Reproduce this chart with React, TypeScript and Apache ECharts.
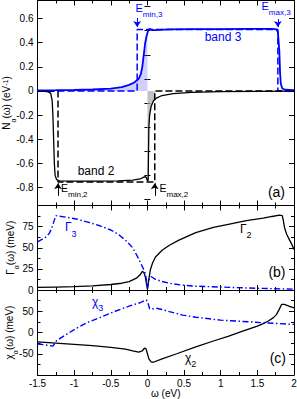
import React, { useEffect, useRef } from "react";
import * as echarts from "echarts";

const FONT = "'Liberation Sans', Arial, Helvetica, sans-serif";
const BLUE = "#0000ff";
const BLACK = "#000000";

// ---------- Panel (a): density of states N_alpha(omega) ----------
const band3Dos: [number, number][] = [
  [-1.5, 0.005], [-1.25, 0.006], [-1.0, 0.008], [-0.75, 0.012], [-0.5, 0.02],
  [-0.35, 0.032], [-0.25, 0.05], [-0.18, 0.07], [-0.12, 0.1], [-0.09, 0.14],
  [-0.07, 0.2], [-0.05, 0.3], [-0.03, 0.4], [-0.01, 0.46], [0, 0.48],
  [0.01, 0.5], [0.03, 0.515], [0.06, 0.505], [0.1, 0.505], [0.3, 0.51],
  [0.6, 0.512], [1.0, 0.512], [1.4, 0.514], [1.7, 0.515], [1.76, 0.51],
  [1.78, 0.49], [1.8, 0.33], [1.81, 0.15], [1.82, 0.06], [1.84, 0.02],
  [1.88, 0.01], [2.0, 0.006],
];
const band2Dos: [number, number][] = [
  [-1.5, -0.002], [-1.4, -0.003], [-1.35, -0.008], [-1.32, -0.02], [-1.3, -0.08],
  [-1.29, -0.2], [-1.28, -0.4], [-1.27, -0.6], [-1.26, -0.7], [-1.24, -0.735],
  [-1.2, -0.745], [-1.0, -0.748], [-0.7, -0.748], [-0.4, -0.745], [-0.2, -0.74],
  [-0.1, -0.73], [-0.05, -0.715], [-0.03, -0.71], [-0.015, -0.72], [0, -0.745],
  [0.01, -0.74], [0.015, -0.5], [0.02, -0.3], [0.03, -0.2], [0.05, -0.13],
  [0.08, -0.085], [0.1, -0.07], [0.12, -0.06], [0.2, -0.038], [0.35, -0.022],
  [0.6, -0.012], [1.0, -0.006], [1.5, -0.003], [2.0, -0.002],
];
const eMin3 = -0.14;
const eMax3 = 1.78;
const eMin2 = -1.22;
const eMax2 = 0.1;
const band3Height = 0.51;
const band2Height = -0.755;
const band3Model: [number, number][] = [
  [-1.5, 0], [eMin3, 0], [eMin3, band3Height], [eMax3, band3Height], [eMax3, 0], [2, 0],
];
const band2Model: [number, number][] = [
  [-1.5, 0], [eMin2, 0], [eMin2, band2Height], [eMax2, band2Height], [eMax2, 0], [2, 0],
];
const dosLabelTicks = [-0.8, -0.6, -0.4, -0.2, 0, 0.2, 0.4, 0.6];
const dosMinorTicks = [-0.9, -0.7, -0.5, -0.3, -0.1, 0.1, 0.3, 0.5, 0.7];

// ---------- Panel (b): Gamma_alpha(omega) in meV ----------
const gamma3: [number, number][] = [
  [-1.5, 57], [-1.44, 60], [-1.38, 63], [-1.34, 67], [-1.31, 72], [-1.28, 80],
  [-1.25, 88], [-1.1, 86], [-0.97, 84], [-0.8, 80], [-0.65, 76], [-0.5, 71],
  [-0.4, 66], [-0.3, 59], [-0.2, 50], [-0.12, 37], [-0.06, 26], [-0.03, 20],
  [-0.01, 10], [0, 2], [0.02, 12], [0.05, 16], [0.1, 13], [0.2, 10], [0.3, 8],
  [0.45, 6], [0.66, 4.5], [1.0, 3.5], [1.5, 2], [2.0, 1],
];
const gamma2: [number, number][] = [
  [-1.5, 3], [-1.25, 3.5], [-1.0, 4], [-0.75, 5], [-0.5, 6.5], [-0.35, 8],
  [-0.25, 10], [-0.15, 14], [-0.1, 18], [-0.07, 22], [-0.05, 21], [-0.03, 16],
  [-0.015, 8], [0, 1], [0.015, 10], [0.04, 24], [0.07, 32], [0.11, 39],
  [0.2, 47], [0.3, 53], [0.43, 59], [0.66, 68], [0.9, 74], [1.12, 78],
  [1.35, 82], [1.58, 85], [1.7, 87], [1.8, 88.5], [1.84, 88], [1.855, 82],
  [1.87, 74], [1.9, 66], [1.94, 59], [1.97, 54], [2.0, 48],
];

// ---------- Panel (c): chi_alpha(omega) in meV ----------
const chi3: [number, number][] = [
  [-1.5, -27], [-1.4, -29], [-1.29, -32], [-1.24, -19], [-1.1, -4], [-0.97, 10],
  [-0.8, 25], [-0.65, 35], [-0.44, 50], [-0.25, 62], [-0.1, 70], [-0.02, 77],
  [0, 74], [0.03, 56], [0.06, 55], [0.12, 57], [0.2, 54], [0.3, 49],
  [0.48, 41], [0.66, 36], [1.0, 29], [1.3, 26], [1.58, 23], [2.0, 19],
];
const chi2: [number, number][] = [
  [-1.5, -22], [-1.25, -25], [-1.0, -28], [-0.75, -31], [-0.5, -35], [-0.3, -39],
  [-0.2, -43], [-0.12, -46], [-0.07, -43], [-0.04, -37], [-0.02, -38], [0, -50],
  [0.02, -62], [0.05, -69], [0.08, -70], [0.2, -62], [0.4, -50], [0.66, -34],
  [0.9, -20], [1.1, -9], [1.3, 3], [1.5, 15], [1.58, 21], [1.65, 27],
  [1.72, 35], [1.76, 42], [1.8, 55], [1.83, 66], [1.87, 66], [1.93, 62], [2.0, 58],
];

const band3Fill = band3Dos.filter(([w]) => w >= -1.25 && w <= 0);
const band2Fill = band2Dos.filter(([w]) => w >= 0 && w <= eMax2);

function rich(size: number, color: string) {
  const sub = Math.round(size * 0.72);
  return {
    m: { fontSize: size, lineHeight: size + 5, verticalAlign: "top", fontFamily: FONT, fill: color, color },
    s: { fontSize: sub, lineHeight: sub, verticalAlign: "bottom", fontFamily: FONT, fill: color, color },
    p: { fontSize: sub, lineHeight: sub, verticalAlign: "top", fontFamily: FONT, fill: color, color },
  };
}

const axisLine = { show: true, onZero: false, lineStyle: { color: BLACK, width: 1 } };
const tickStyle = { color: BLACK, width: 1 };
const labelStyle = { color: BLACK, fontSize: 10, fontFamily: FONT };

function xAxes(grid: number, showLabels: boolean) {
  const base = {
    type: "value",
    gridIndex: grid,
    min: -1.5,
    max: 2,
    interval: 0.5,
    axisLine,
    axisTick: { show: true, inside: true, length: 5, lineStyle: tickStyle },
    minorTick: { show: true, splitNumber: 2, length: 3, lineStyle: tickStyle },
    splitLine: { show: false },
    minorSplitLine: { show: false },
  };
  return [
    {
      ...base,
      position: "bottom",
      axisLabel: { show: showLabels, margin: 3, ...labelStyle },
      name: showLabels ? "ω (eV)" : "",
      nameLocation: "middle",
      nameGap: 13,
      nameMoveOverlap: false,
      nameTextStyle: { color: BLACK, fontSize: 10, fontFamily: FONT },
    },
    { ...base, position: "top", axisLabel: { show: false } },
  ];
}

function yAxes(grid: number, min: number, max: number, interval: number, name: string, nameGap: number) {
  const base = {
    type: "value",
    gridIndex: grid,
    min,
    max,
    interval,
    axisLine,
    axisTick: { show: true, inside: true, length: 5, lineStyle: tickStyle },
    minorTick: { show: true, splitNumber: 2, length: 3, lineStyle: tickStyle },
    splitLine: { show: false },
    minorSplitLine: { show: false },
  };
  return [
    {
      ...base,
      position: "left",
      axisLabel: { show: true, margin: 4, showMinLabel: min >= 0, showMaxLabel: false, ...labelStyle },
      name,
      nameLocation: "middle",
      nameRotate: 90,
      nameGap,
      nameMoveOverlap: false,
      nameTextStyle: { color: BLACK, fontSize: 10, fontFamily: FONT, rich: rich(10, BLACK) },
    },
    { ...base, position: "right", axisLabel: { show: false } },
  ];
}

function dosYAxes() {
  const base = {
    type: "value",
    gridIndex: 0,
    min: -0.95,
    max: 0.75,
    splitLine: { show: false },
  };
  return [
    {
      ...base,
      position: "left",
      axisLine,
      axisTick: { show: true, inside: true, length: 5, lineStyle: tickStyle, customValues: dosLabelTicks },
      axisLabel: { show: true, margin: 4, customValues: dosLabelTicks, ...labelStyle },
      name: "{m|N}{s|α}{m|(ω) (eV}{p|-1}{m|)}",
      nameLocation: "middle",
      nameRotate: 90,
      nameGap: 21,
      nameMoveOverlap: false,
      nameTextStyle: { color: BLACK, fontSize: 10, fontFamily: FONT, rich: rich(10, BLACK) },
    },
    {
      ...base,
      position: "right",
      axisLine,
      axisTick: { show: true, inside: true, length: 5, lineStyle: tickStyle, customValues: dosLabelTicks },
      axisLabel: { show: false },
    },
    {
      ...base,
      position: "left",
      axisLine: { show: false },
      axisTick: { show: true, inside: true, length: 3, lineStyle: tickStyle, customValues: dosMinorTicks },
      axisLabel: { show: false },
    },
    {
      ...base,
      position: "right",
      axisLine: { show: false },
      axisTick: { show: true, inside: true, length: 3, lineStyle: tickStyle, customValues: dosMinorTicks },
      axisLabel: { show: false },
    },
  ];
}

function line(data: [number, number][], xi: number, yi: number, color: string, width: number, type: any, extra: any = {}) {
  return {
    type: "line",
    data,
    xAxisIndex: xi,
    yAxisIndex: yi,
    showSymbol: false,
    symbol: "none",
    silent: true,
    lineStyle: { color, width, type },
    ...extra,
  };
}

function arrows(color: string, segs: [number, number, number][]) {
  return {
    silent: true,
    symbol: ["none", "arrow"],
    symbolSize: 6,
    label: { show: false },
    emphasis: { disabled: true },
    lineStyle: { color, type: "solid", width: 1 },
    data: segs.map(([x, y0, y1]) => [{ coord: [x, y0] }, { coord: [x, y1] }]),
  };
}

function gtext(x: number, y: number, text: string, size: number, color: string, align = "left", vAlign = "top") {
  return {
    type: "text",
    x,
    y,
    silent: true,
    z: 100,
    style: {
      text,
      fill: color,
      fontSize: size,
      fontFamily: FONT,
      align,
      verticalAlign: vAlign,
      rich: rich(size, color),
    },
  };
}

const DASH = [7, 3];
const DASHDOT = [6, 2.5, 1.5, 2.5];

export default function App() {
  const ref = useRef<HTMLDivElement>(null);
  useEffect(() => {
    if (!ref.current) return;
    const chart = echarts.init(ref.current, null, { renderer: "svg" });
    const gridBase = { left: 37.5, right: 3, containLabel: false, outerBoundsMode: "none" };
    const option: any = {
      animation: false,
      backgroundColor: "#ffffff",
      grid: [
        { ...gridBase, top: 0.5, height: 205 },
        { ...gridBase, top: 205.5, height: 84.5 },
        { ...gridBase, top: 290, height: 85 },
      ],
      xAxis: [...xAxes(0, false), ...xAxes(1, false), ...xAxes(2, true)],
      yAxis: [
        ...dosYAxes(),
        ...yAxes(1, 0, 100, 25, "{m|Γ}{s|α}{m|(ω) (meV)}", 17.5),
        ...yAxes(2, -100, 100, 50, "{m|χ}{s|α}{m|(ω) (meV)}", 18.5),
      ],
      series: [
        line(band3Fill, 0, 0, BLUE, 0, "solid", { areaStyle: { color: "rgba(60,60,255,0.35)" } }),
        line(band2Fill, 0, 0, "#888", 0, "solid", { areaStyle: { color: "#a8a8a8" } }),
        line(band3Model, 0, 0, BLUE, 1.5, DASH),
        line(band2Model, 0, 0, BLACK, 1.5, DASH),
        line(band2Dos, 0, 0, BLACK, 1.3, "solid", {
          markLine: arrows(BLACK, [
            [eMin2, -0.87, -0.765],
            [eMax2, -0.87, -0.765],
          ]),
        }),
        line(band3Dos, 0, 0, BLUE, 1.8, "solid", {
          markLine: arrows(BLUE, [
            [eMin3, 0.605, 0.53],
            [eMax3, 0.595, 0.53],
          ]),
        }),
        line(gamma2, 2, 4, BLACK, 1.3, "solid"),
        line(gamma3, 2, 4, BLUE, 1.4, DASHDOT),
        line(chi2, 4, 6, BLACK, 1.3, "solid"),
        line(chi3, 4, 6, BLUE, 1.4, DASHDOT),
      ],
      graphic: [
        gtext(135.5, 2.5, "{m|E}{s|min,3}", 11, BLUE),
        gtext(261.5, 0, "{m|E}{s|max,3}", 11, BLUE),
        gtext(61, 182.5, "{m|E}{s|min,2}", 10.5, BLACK),
        gtext(159.5, 182.5, "{m|E}{s|max,2}", 10.5, BLACK),
        gtext(223, 37, "band 3", 12, BLUE, "center", "middle"),
        gtext(96, 171, "band 2", 12, BLACK, "center", "middle"),
        gtext(65, 221, "{m|Γ}{s|3}", 12, BLUE),
        gtext(240, 222.5, "{m|Γ}{s|2}", 12, BLACK),
        gtext(92, 295.5, "{m|χ}{s|3}", 12, BLUE),
        gtext(185, 351.5, "{m|χ}{s|2}", 12, BLACK),
        gtext(285, 191.7, "(a)", 14, BLACK, "right", "middle"),
        gtext(285.5, 271.7, "(b)", 14, BLACK, "right", "middle"),
        gtext(286, 357.7, "(c)", 14, BLACK, "right", "middle"),
      ],
    };
    chart.setOption(option);
    return () => chart.dispose();
  }, []);
  return (
    <div
      ref={ref}
      style={{ position: "fixed", left: 0, top: 0, width: 297, height: 399, background: "#fff" }}
    />
  );
}
